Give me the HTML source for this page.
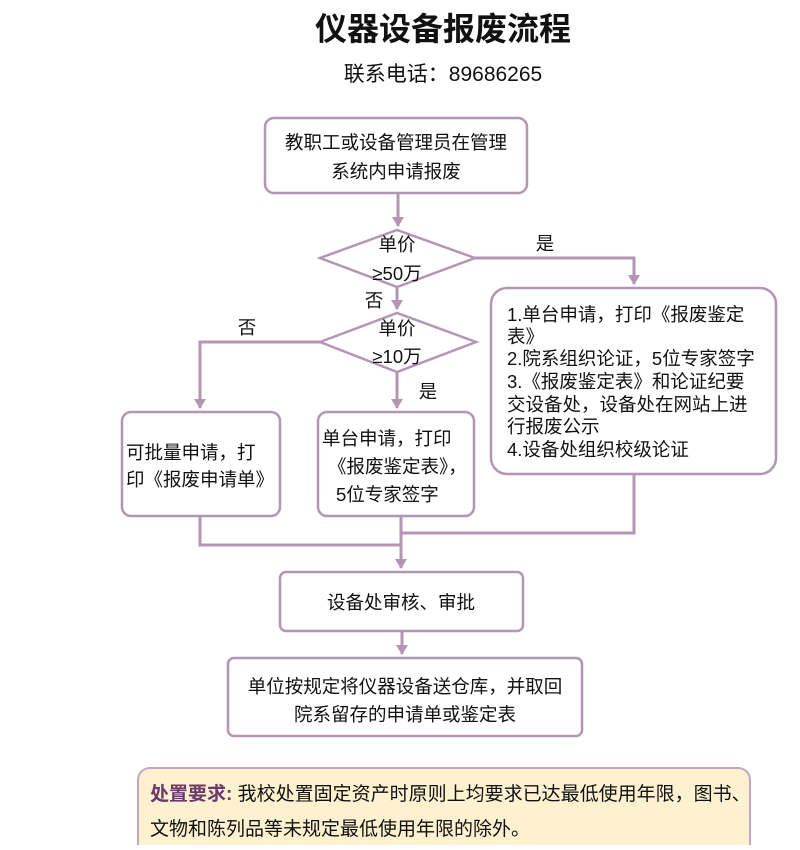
<!DOCTYPE html>
<html><head><meta charset="utf-8"><style>
body{margin:0;background:#fff;}
svg text{font-family:"Liberation Sans","Noto Sans CJK SC",sans-serif;fill:#111;}
</style></head><body>
<svg width="800" height="845" viewBox="0 0 800 845" xmlns="http://www.w3.org/2000/svg">
<defs>
<marker id="d" markerWidth="12" markerHeight="10" refX="6" refY="9" viewBox="0 0 12 10" markerUnits="userSpaceOnUse" orient="0"><path d="M0,0 L12,0 L6,10 z" fill="#b496b4"/></marker></defs>
<text x="443" y="40" text-anchor="middle" font-size="32" font-weight="bold">仪器设备报废流程</text>
<text x="443" y="81" text-anchor="middle" font-size="21">联系电话：89686265</text>
<g fill="#fff" stroke="#b496b4" stroke-width="2.5">
<rect x="265" y="118" width="262" height="75" rx="9"/>
<polygon points="320,258 397,230 475,258 397,287"/>
<polygon points="320,342 397,313 476,342 397,372"/>
<rect x="491" y="288" width="285" height="186" rx="16"/>
<rect x="122" y="412" width="158" height="104" rx="9"/>
<rect x="318" y="412" width="156" height="104" rx="9"/>
<rect x="280" y="572" width="243" height="59" rx="6"/>
<rect x="228" y="658" width="354" height="78" rx="6"/>
</g>
<g fill="none" stroke="#b496b4" stroke-width="3">
<path d="M398,193 V226" marker-end="url(#d)"/>
<path d="M475,258 H634 V284" marker-end="url(#d)"/>
<path d="M397,287 V309" marker-end="url(#d)"/>
<path d="M320,342 H200 V408" marker-end="url(#d)"/>
<path d="M397,372 V408" marker-end="url(#d)"/>
<path d="M200,516 V545 H402"/>
<path d="M401,516 V568" marker-end="url(#d)"/>
<path d="M634,474 V533 H401"/>
<path d="M402,631 V654" marker-end="url(#d)"/>
</g>
<g font-size="18.5">
<text x="396" y="149" text-anchor="middle">教职工或设备管理员在管理</text>
<text x="396" y="178" text-anchor="middle">系统内申请报废</text>
<text x="397" y="251" text-anchor="middle">单价</text>
<text x="397" y="280" text-anchor="middle">≥50万</text>
<text x="545" y="250" text-anchor="middle">是</text>
<text x="374" y="307" text-anchor="middle">否</text>
<text x="397" y="335" text-anchor="middle">单价</text>
<text x="397" y="363" text-anchor="middle">≥10万</text>
<text x="247" y="334" text-anchor="middle">否</text>
<text x="428" y="398" text-anchor="middle">是</text>
<text x="126" y="459">可批量申请，打</text>
<text x="126" y="486">印《报废申请单》</text>
<text x="322" y="445">单台申请，打印</text>
<text x="328" y="473">《报废鉴定表》，</text>
<text x="336" y="501">5位专家签字</text>
<text x="507" y="321">1.单台申请，打印《报废鉴定</text>
<text x="507" y="343">表》</text>
<text x="507" y="365">2.院系组织论证，5位专家签字</text>
<text x="507" y="388">3.《报废鉴定表》和论证纪要</text>
<text x="507" y="411">交设备处，设备处在网站上进</text>
<text x="507" y="433">行报废公示</text>
<text x="507" y="456">4.设备处组织校级论证</text>
<text x="401" y="609" text-anchor="middle">设备处审核、审批</text>
<text x="405" y="693" text-anchor="middle">单位按规定将仪器设备送仓库，并取回</text>
<text x="405" y="721" text-anchor="middle">院系留存的申请单或鉴定表</text>
</g>
<rect x="138" y="768" width="612" height="90" rx="12" fill="#fdf1cf" stroke="#c0a8c0" stroke-width="2"/>
<text x="150" y="800" font-size="19"><tspan font-weight="bold" style="fill:#6b3a6b">处置要求:</tspan> 我校处置固定资产时原则上均要求已达最低使用年限，图书、</text>
<text x="150" y="835" font-size="19">文物和陈列品等未规定最低使用年限的除外。</text>
</svg>
</body></html>
